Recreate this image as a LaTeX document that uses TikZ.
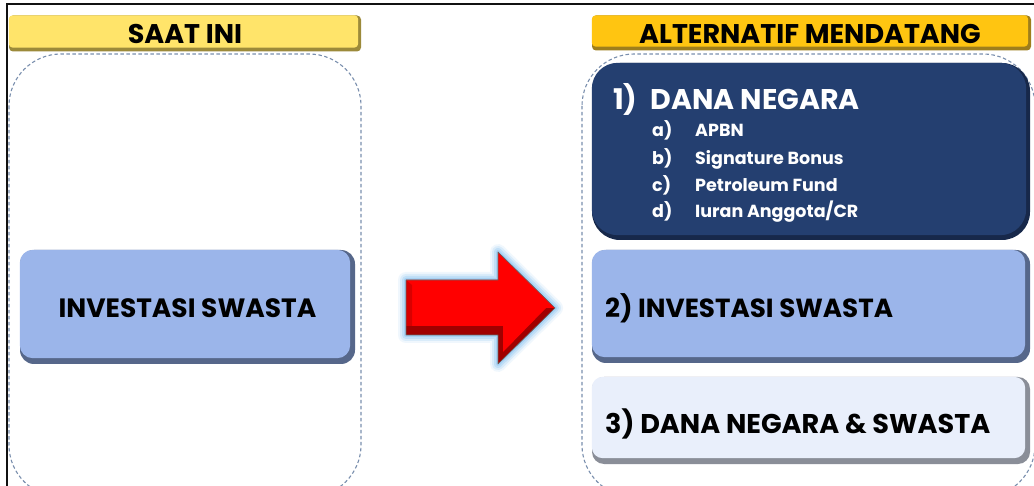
\documentclass[tikz,border=0pt]{standalone}
\usepackage{fontspec}
\setmainfont{Poppins}
\definecolor{frameblack}{HTML}{111111}
\definecolor{dashcol}{HTML}{7A8FAE}
\definecolor{ylwA}{HTML}{FFE46A}
\definecolor{ylwAd}{HTML}{9C8A3A}
\definecolor{ylwB}{HTML}{FFC511}
\definecolor{ylwBd}{HTML}{9E7E1C}
\definecolor{navy}{HTML}{243F70}
\definecolor{navyd}{HTML}{17284A}
\definecolor{lblue}{HTML}{9BB5EA}
\definecolor{lblued}{HTML}{56678A}
\definecolor{pale}{HTML}{E9EFFB}
\definecolor{paled}{HTML}{8A8E98}
\definecolor{arrred}{HTML}{FF0000}
\definecolor{arrdark}{HTML}{A00000}
\definecolor{glow}{HTML}{9CCDF4}
\tikzset{
  basebox/.style={rounded corners=#1, inner sep=0pt, draw=none},
  dashbox/.style={draw=dashcol, line width=1.1pt, dash pattern=on 3.5pt off 2.5pt, rounded corners=52pt},
  bigtxt/.style={font=\fontsize{#1}{#1}\selectfont\bfseries, inner sep=0pt},
  midtxt/.style={font=\fontsize{28.5}{28.5}\selectfont\bfseries, inner sep=0pt, text=white},
  smalltxt/.style={font=\fontsize{17.5}{17.5}\selectfont\bfseries, inner sep=0pt, text=white},
  headtxt/.style={font=\fontsize{27}{27}\selectfont\bfseries, inner sep=0pt},
}
\begin{document}
\begin{tikzpicture}[x=1pt,y=-1pt]
\useasboundingbox (0,0) rectangle (1034,486);
\fill[white] (0,0) rectangle (1034,486);
% dashed containers
\begin{scope}
\clip (0,0) rectangle (1034,486);
\draw[dashbox] (9,54) rectangle (361,497);
\draw[dashbox] (582,54) rectangle (1035,497);
\end{scope}
% frame lines
\draw[frameblack, line width=2pt] (7,486) -- (7,4) -- (1034,4);

% header bars
\node[basebox=4pt, fill=ylwAd, minimum width=352pt, minimum height=36pt] (h1) at (185,33.5) {};
\fill[ylwA, rounded corners=4pt] (h1.north west) rectangle ([xshift=-3pt,yshift=4pt]h1.south east);
\node[headtxt, anchor=base] (t1) at (185,44) {SAAT INI};

\node[basebox=4pt, fill=ylwBd, minimum width=439pt, minimum height=35pt] (h2) at (811.5,33) {};
\fill[ylwB, rounded corners=4pt] (h2.north west) rectangle ([xshift=-3pt,yshift=4pt]h2.south east);
\node[headtxt, anchor=base] (t2) at (810,44) {ALTERNATIF MENDATANG};

% left box
\node[basebox=14pt, fill=lblued, minimum width=335pt, minimum height=114pt] (b0) at (187.5,307) {};
\fill[lblue, rounded corners=13pt] (b0.north west) rectangle ([xshift=-5pt,yshift=6pt]b0.south east);
\node[bigtxt=26.5, anchor=base] (t0) at (187.5,318) {INVESTASI SWASTA};

% arrow with glow
\foreach \w/\o in {16/0.15,12/0.25,8/0.4,4/0.7}{
  \draw[glow, line width=\w pt, line join=round, opacity=\o] (406,280) -- (498,280) -- (498,252) -- (555,308) -- (498,364) -- (498,335) -- (406,335) -- cycle;
}
\fill[arrdark] (406,280) -- (498,280) -- (498,252) -- (555,308) -- (498,364) -- (498,335) -- (406,335) -- cycle;
\fill[arrred] (406,280) -- (498,280) -- (498,252) -- (555,308) -- (546,308) -- (503,352) -- (503,326) -- (406,326) -- cycle;
\fill[arrred!85!black] (406,280) -- (412,285) -- (412,326) -- (406,326) -- cycle;
\draw[black!60, line width=0.6pt, line join=round] (406,280) -- (498,280) -- (498,252) -- (555,308) -- (498,364) -- (498,335) -- (406,335) -- cycle;
\coordinate (arrowtip) at (555,308);

% box 1 navy
\node[basebox=28pt, fill=navyd, minimum width=438pt, minimum height=177pt] (b1) at (811,151.5) {};
\fill[navy, rounded corners=26pt] (b1.north west) rectangle ([xshift=-4pt,yshift=5pt]b1.south east);
\node[midtxt, anchor=base west] (t1a) at (613,110) {1)\hspace{13pt}DANA NEGARA};
\node[smalltxt, anchor=base west] (ia) at (652,137) {a)};
\node[smalltxt, anchor=base west] (ja) at (695,137) {APBN};
\node[smalltxt, anchor=base west] (ib) at (652,165) {b)};
\node[smalltxt, anchor=base west] (jb) at (695,165) {Signature Bonus};
\node[smalltxt, anchor=base west] (ic) at (652,192) {c)};
\node[smalltxt, anchor=base west] (jc) at (695,192) {Petroleum Fund};
\node[smalltxt, anchor=base west] (id) at (652,218) {d)};
\node[smalltxt, anchor=base west] (jd) at (695,218) {Iuran Anggota/CR};

% box 2
\node[basebox=14pt, fill=lblued, minimum width=438pt, minimum height=113pt] (b2) at (811,306.5) {};
\fill[lblue, rounded corners=13pt] (b2.north west) rectangle ([xshift=-5pt,yshift=6pt]b2.south east);
\node[bigtxt=26.2, anchor=base west] (t2b) at (605,318) {2) INVESTASI SWASTA};

% box 3
\node[basebox=12pt, fill=paled, minimum width=438pt, minimum height=87pt] (b3) at (811,420.5) {};
\fill[pale, rounded corners=11pt] (b3.north west) rectangle ([xshift=-5pt,yshift=6pt]b3.south east);
\node[bigtxt=27.1, anchor=base west] (t3) at (605,433) {3) DANA NEGARA \& SWASTA};
\end{tikzpicture}
\end{document}
